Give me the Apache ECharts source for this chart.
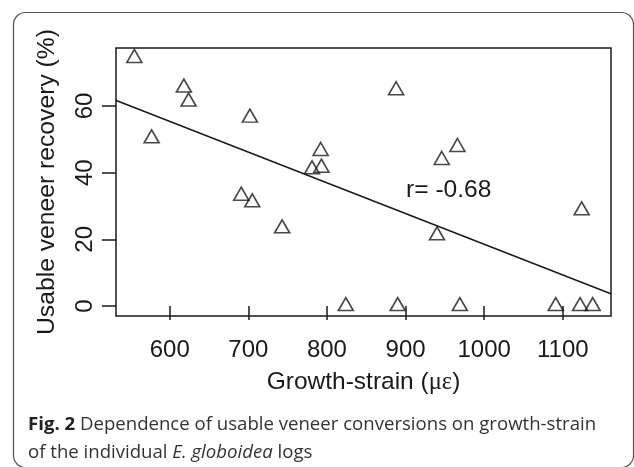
<!DOCTYPE html>
<html>
<head>
<meta charset="utf-8">
<script src="https://cdn.jsdelivr.net/npm/echarts@6/dist/echarts.min.js"></script>
<style>
html,body{margin:0;padding:0;background:#fff;}
#chart{width:634px;height:467px;}
</style>
</head>
<body>
<div id="chart"></div>
<script>
// Growth-strain (micro-strain) of each log
const growthStrain = [555, 618, 624, 702, 577, 888, 792, 793, 781, 946, 966, 691, 705, 743, 940, 824, 890, 1124, 969, 1091, 1122, 1138];
// Usable veneer recovery (%) of each log
const veneerRecovery = [74.4, 65.5, 61.3, 56.5, 50.3, 64.7, 46.5, 41.5, 41.0, 43.8, 47.7, 33.1, 31.1, 23.3, 21.2, 0, 0, 28.7, 0, 0, 0, 0];
// fitted regression line end points
const fitX = [531.2, 1161.1];
const fitY = [61.7, 3.7];
// tick labels
const xTicks = [600, 700, 800, 900, 1000, 1100];
const yTicks = [0, 20, 40, 60];
const rText = 'r= -0.68';

function padRange(arr) {
  const mn = Math.min(...arr), mx = Math.max(...arr);
  const d = (mx - mn) * 0.04;
  return [mn - d, mx + d];
}
const xr = padRange(growthStrain);
const yr = padRange(veneerRecovery);

const points = growthStrain.map((x, i) => [x, veneerRecovery[i]]);
const fitLine = fitX.map((x, i) => [x, fitY[i]]);

const chart = echarts.init(document.getElementById('chart'), null, {renderer: 'canvas'});
const ink = '#1a1a1a';
const font = 'Liberation Sans, Arial, Helvetica, sans-serif';

chart.setOption({
  backgroundColor: '#fff',
  animation: false,
  grid: {
    left: 116, top: 48, right: 23, bottom: 151,
    show: true, borderColor: ink, borderWidth: 1.5, backgroundColor: 'transparent'
  },
  xAxis: {
    type: 'value',
    min: xr[0], max: xr[1],
    splitLine: {show: false},
    axisLine: {show: false},
    axisTick: {show: true, length: 14, inside: false, lineStyle: {color: ink, width: 1.5}, customValues: xTicks},
    axisLabel: {customValues: xTicks, color: ink, fontSize: 24, fontFamily: font, margin: 22,
      formatter: v => String(v)},
    name: 'Growth-strain ({s|με})',
    nameLocation: 'middle',
    nameGap: 54,
    nameTextStyle: {
      color: ink, fontSize: 24.5, fontFamily: font,
      rich: {s: {fontSize: 24.5, fontFamily: 'Liberation Serif, DejaVu Serif, serif', color: ink}}
    }
  },
  yAxis: {
    type: 'value',
    min: yr[0], max: yr[1],
    splitLine: {show: false},
    axisLine: {show: false},
    axisTick: {show: true, length: 14, lineStyle: {color: ink, width: 1.5}, customValues: yTicks},
    axisLabel: {customValues: yTicks, rotate: 90, color: ink, fontSize: 24, fontFamily: font, margin: 19,
      formatter: v => String(v)},
    name: 'Usable veneer recovery (%)',
    nameLocation: 'middle',
    nameGap: 56,
    nameTextStyle: {color: ink, fontSize: 24.7, fontFamily: font}
  },
  series: [
    {
      type: 'scatter',
      data: points,
      symbol: 'triangle',
      symbolSize: [15, 13],
      symbolOffset: [0, -2],
      itemStyle: {color: 'rgba(0,0,0,0)', borderColor: ink, borderWidth: 1.6},
      z: 3
    },
    {
      type: 'line',
      data: fitLine,
      showSymbol: false,
      symbol: 'none',
      clip: true,
      lineStyle: {color: ink, width: 1.5},
      z: 2
    }
  ],
  graphic: [
    {
      type: 'rect',
      shape: {x: 13.5, y: 12.5, width: 620, height: 455, r: 12},
      style: {fill: 'none', stroke: '#555', lineWidth: 1.2},
      silent: true
    },
    {
      type: 'text',
      left: 406, top: 178,
      style: {text: rText, fill: ink, font: '24.6px ' + font}
    },
    {
      type: 'text',
      left: 28, top: 415,
      style: {
        text: '{b|Fig. 2} Dependence of usable veneer conversions on growth-strain',
        fill: '#333',
        font: '18.6px "Open Sans", sans-serif',
        rich: {b: {fontWeight: 'bold', fontSize: 18.6, fontFamily: 'Open Sans', fill: '#222'}}
      }
    },
    {
      type: 'text',
      left: 28, top: 443,
      style: {
        text: 'of the individual {i|E. globoidea} logs',
        fill: '#333',
        font: '18.6px "Open Sans", sans-serif',
        rich: {i: {fontStyle: 'italic', fontSize: 18.6, fontFamily: 'Open Sans', fill: '#333'}}
      }
    }
  ]
});
</script>
</body>
</html>
